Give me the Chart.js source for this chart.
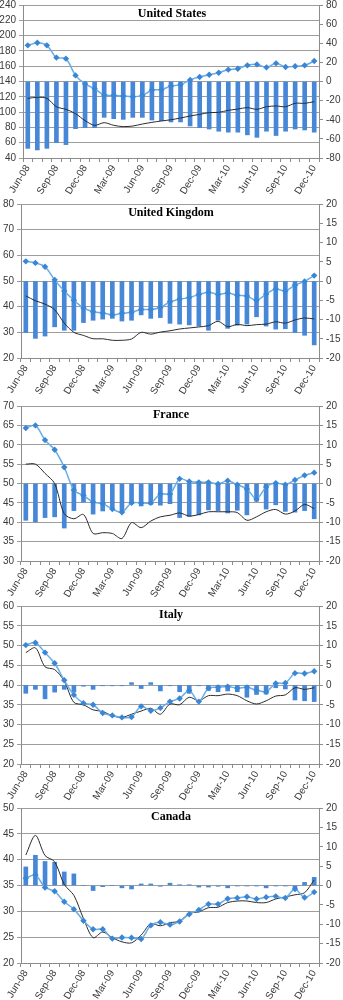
<!DOCTYPE html>
<html>
<head>
<meta charset="utf-8">
<script src="https://cdn.jsdelivr.net/npm/chart.js@4.4.0/dist/chart.umd.min.js"></script>
<style>
  html, body { margin: 0; padding: 0; background: #fff; }
  body { position: relative; width: 343px; height: 1000px; overflow: hidden; }
  canvas { position: absolute; left: 0; }
</style>
</head>
<body>
<script>
// Monthly categories, Jun-08 .. Dec-10
const months = ['Jun-08','Jul-08','Aug-08','Sep-08','Oct-08','Nov-08','Dec-08',
  'Jan-09','Feb-09','Mar-09','Apr-09','May-09','Jun-09','Jul-09','Aug-09','Sep-09','Oct-09','Nov-09','Dec-09',
  'Jan-10','Feb-10','Mar-10','Apr-10','May-10','Jun-10','Jul-10','Aug-10','Sep-10','Oct-10','Nov-10','Dec-10'];

// United States
const usLine    = [118,119.3,118,107,103.6,98,88.8,82.7,86.2,82.7,81,81.8,84.4,86.6,88.4,90,92.3,94.9,97,99.3,99.7,102.3,104,105.8,103.6,107,108,107,111.5,111.5,113.6];
const usMarkers = [37.8,40.6,37.8,25,23.9,6.4,-2.6,-7.5,-14.1,-14.5,-15.1,-15.9,-14.5,-8.9,-8.5,-4.7,-3.3,1.6,4.7,7.1,9.2,12.4,13.4,16.9,17.9,14.8,19,15.2,15.9,16.9,21.4];
const usBars    = [-69.9,-71.6,-69.9,-64,-66,-49.3,-48.3,-48.3,-37.5,-38.9,-39.6,-37.5,-37.5,-40.3,-41,-42.3,-42.3,-46.5,-48.3,-49.7,-52,-53,-53,-55.8,-58.4,-52,-56.5,-52,-49.7,-50.7,-53];

// United Kingdom
const ukLine    = [44.2,42.3,41,38.8,33.6,30,28.8,27.5,27.5,26.9,26.9,27.4,30,29.3,30.1,30.6,31.3,31.7,32.1,32.6,34.3,32.2,33.1,32.6,33,33.2,34.1,33.6,34.8,35.6,35.2];
const ukMarkers = [5.1,4.7,3.7,0.3,-2.6,-5,-7,-8,-8.3,-8.8,-8.4,-8.1,-7.4,-7.4,-6.9,-5.4,-4.7,-4.3,-3.5,-2.9,-3.5,-3.1,-3.7,-3.9,-5,-3.4,-2.1,-2.6,-1.1,-0.1,1.4];
const ukBars    = [-13.4,-14.9,-14.3,-11.9,-12.8,-12.8,-10.8,-10.2,-9.9,-9.7,-10.4,-10.2,-8.8,-9.7,-9.5,-11,-11.2,-11.4,-11.7,-12.8,-10.2,-12.3,-11.5,-11.2,-9.3,-11.7,-12.5,-12.4,-13.4,-14.1,-16.6];

// France
const frLine    = [55,55,52.6,50,42.2,40.9,42,37.1,37.3,37.1,35.8,39.9,38.6,40.3,41.4,41.8,42.4,41.6,42,42.7,42.7,42.7,42.5,40.5,41.4,42.7,43.3,42.1,42.9,44.6,43.5];
const frMarkers = [14.3,15,11.2,8.7,4.2,-1.7,-3.1,-4.8,-5.2,-6.6,-7.4,-5,-5,-5,-2.7,-2.7,1.2,0.5,0.3,0.3,-0.1,0.7,-0.3,-1.4,-4,-0.9,0.1,-0.3,0.9,2.1,2.8];
const frBars    = [-9.5,-9.9,-8.8,-8.6,-11.5,-7,-4.8,-7.9,-7.1,-6.4,-7.2,-5.2,-5.8,-5.4,-5.6,-5.2,-8.8,-8.5,-8.1,-6.8,-7,-7.6,-6.9,-8.1,-4.6,-6.6,-5.5,-7.2,-7.4,-7,-9.1];

// Italy
const itLine    = [48.2,49.4,44.6,43.9,41,35.6,35,33.7,33.3,32.2,31.8,32.6,33.4,34.1,32.6,35.2,35,36.9,36,37.3,37.3,37.7,37.3,36,35.2,36,37.2,37.5,39.3,38.9,39.3];
const itMarkers = [10.1,10.7,8.2,5.5,1.2,-2.5,-4.6,-5,-7.1,-7.7,-8.2,-8.1,-5.4,-6.5,-5.8,-4.2,-3.4,-1.4,-4.2,-0.8,-0.6,-0.4,-0.8,-0.6,-1.3,-1.7,0.4,0.5,3,2.9,3.5];
const itBars    = [-2.1,-1.1,-3.5,-1.8,-1.1,-1.8,-0.3,-1.1,-0.2,-0.2,-0.2,0.6,-0.9,0.6,-1.5,-0.2,-1.7,-2.1,-0.2,-1.4,-1.7,-1.5,-1.7,-3.1,-2.4,-2.3,-0.7,-1,-3.8,-4,-4.2];

// Canada
const caLine    = [40.9,44.7,40.8,39.6,35.2,33.1,28.6,24.9,26,24.9,24.1,23.9,25.4,27.6,27.2,27.8,28.1,29.6,29.9,30.7,30.8,31.7,32,32,31.7,31.7,32.4,32.8,33.2,33.6,36.1];
const caMarkers = [1.9,2.7,-0.5,-1.5,-4.2,-6.1,-9.1,-11.3,-11.3,-13.7,-13.4,-13.5,-13.8,-10.3,-9.5,-10.1,-9.3,-7.4,-6.3,-4.8,-4.8,-3.4,-3.2,-2.9,-3.5,-3,-2.8,-3.2,-0.9,-3.1,-1.7];
const caBars    = [4.8,7.8,6.2,6,3.5,3,0,-1.3,-0.3,0,-0.6,-0.9,0.4,0.4,-0.2,0.6,0.2,0.2,-0.4,-0.4,-0.2,-0.6,-0.1,-0.1,-0.1,-0.6,-0.1,-0.1,-0.6,0.8,2.1];

// Axis ranges: [min, max, step]
const usLeftAxis = [40, 240, 20], usRightAxis = [-80, 80, 20];
const ukLeftAxis = [20, 80, 10],  ukRightAxis = [-20, 20, 5];
const frLeftAxis = [30, 70, 5],   frRightAxis = [-20, 20, 5];
const itLeftAxis = [20, 60, 5],   itRightAxis = [-20, 20, 5];
const caLeftAxis = [20, 50, 5],   caRightAxis = [-20, 20, 5];

const panels = [
  { title: 'United States',  line: usLine, markers: usMarkers, bars: usBars, left: usLeftAxis, right: usRightAxis },
  { title: 'United Kingdom', line: ukLine, markers: ukMarkers, bars: ukBars, left: ukLeftAxis, right: ukRightAxis },
  { title: 'France',         line: frLine, markers: frMarkers, bars: frBars, left: frLeftAxis, right: frRightAxis },
  { title: 'Italy',          line: itLine, markers: itMarkers, bars: itBars, left: itLeftAxis, right: itRightAxis },
  { title: 'Canada',         line: caLine, markers: caMarkers, bars: caBars, left: caLeftAxis, right: caRightAxis }
];

// Page layout of each plot area (top, bottom, left axis width)
const frames = [
  { top: 5,   bottom: 158, axisW: 23 },
  { top: 204, bottom: 358, axisW: 21 },
  { top: 406, bottom: 561, axisW: 21 },
  { top: 606, bottom: 764, axisW: 21 },
  { top: 808, bottom: 963, axisW: 21 }
];
const PAD_TOP = 10, X_AXIS_H = 45, RIGHT_AXIS_W = 24;

const AXIS_GRAY = '#8c8c8c';
const GRID_GRAY = '#9d9d9d';
const tickFont = { family: '"Liberation Sans", Arial, sans-serif', size: 10 };
const TICK_COLOR = '#3a3a3a';

// Title written inside the top of the plot area
const panelTitle = {
  id: 'panelTitle',
  afterDatasetsDraw(chart, args, opts) {
    const { ctx, chartArea } = chart;
    ctx.save();
    ctx.font = 'bold 12px "Liberation Serif", "Times New Roman", serif';
    ctx.fillStyle = '#000';
    ctx.textAlign = 'center';
    ctx.textBaseline = 'middle';
    ctx.fillText(opts.text, (chartArea.left + chartArea.right) / 2 + 1, chartArea.top + 9);
    ctx.restore();
  }
};

panels.forEach((p, i) => {
  const f = frames[i];
  const plotH = f.bottom - f.top;
  const canvas = document.createElement('canvas');
  const h = PAD_TOP + plotH + X_AXIS_H;
  canvas.width = 343;
  canvas.height = h;
  canvas.style.width = '343px';
  canvas.style.height = h + 'px';
  canvas.style.top = (f.top - PAD_TOP) + 'px';
  document.body.appendChild(canvas);

  new Chart(canvas, {
    data: {
      labels: months,
      datasets: [
        {
          type: 'line', data: p.markers, yAxisID: 'yR', order: 1,
          borderColor: '#66aee9', borderWidth: 1.5, tension: 0.3,
          pointStyle: 'rectRot', pointRadius: 3.2, pointBorderWidth: 0,
          pointBackgroundColor: '#3b86d4', pointBorderColor: '#3b86d4'
        },
        {
          type: 'line', data: p.line, yAxisID: 'yL', order: 2,
          borderColor: '#2b2b2b', borderWidth: 1, tension: 0.3,
          pointRadius: 0
        },
        {
          type: 'bar', data: p.bars, yAxisID: 'yR', order: 3,
          backgroundColor: '#4787d8', borderWidth: 0,
          barThickness: 4
        }
      ]
    },
    options: {
      responsive: false,
      animation: false,
      events: [],
      layout: { padding: { top: PAD_TOP, left: 0, right: 0, bottom: 0 } },
      plugins: {
        legend: { display: false },
        tooltip: { enabled: false },
        panelTitle: { text: p.title }
      },
      scales: {
        x: {
          type: 'category',
          offset: true,
          grid: { offset: true, drawOnChartArea: false, drawTicks: true, tickLength: 4, color: AXIS_GRAY },
          border: { color: AXIS_GRAY },
          ticks: {
            autoSkip: false, minRotation: 58, maxRotation: 58, padding: 1,
            font: tickFont, color: TICK_COLOR,
            callback(v, idx) { return idx % 3 === 0 ? months[idx] : ''; }
          },
          afterFit(s) { s.height = X_AXIS_H; s.paddingLeft = 0; s.paddingRight = 0; }
        },
        yL: {
          type: 'linear', position: 'left',
          min: p.left[0], max: p.left[1],
          ticks: { stepSize: p.left[2], font: tickFont, color: TICK_COLOR, padding: 3 },
          grid: { color: GRID_GRAY, drawTicks: true, tickLength: 4 },
          border: { color: AXIS_GRAY },
          afterFit(s) { s.width = f.axisW; s.paddingTop = 0; s.paddingBottom = 0; }
        },
        yR: {
          type: 'linear', position: 'right',
          min: p.right[0], max: p.right[1],
          ticks: { stepSize: p.right[2], font: tickFont, color: TICK_COLOR, padding: 3 },
          grid: { drawOnChartArea: false, drawTicks: true, tickLength: 4, color: AXIS_GRAY },
          border: { color: AXIS_GRAY },
          afterFit(s) { s.width = RIGHT_AXIS_W; s.paddingTop = 0; s.paddingBottom = 0; }
        }
      }
    },
    plugins: [panelTitle]
  });
});
</script>
</body>
</html>
